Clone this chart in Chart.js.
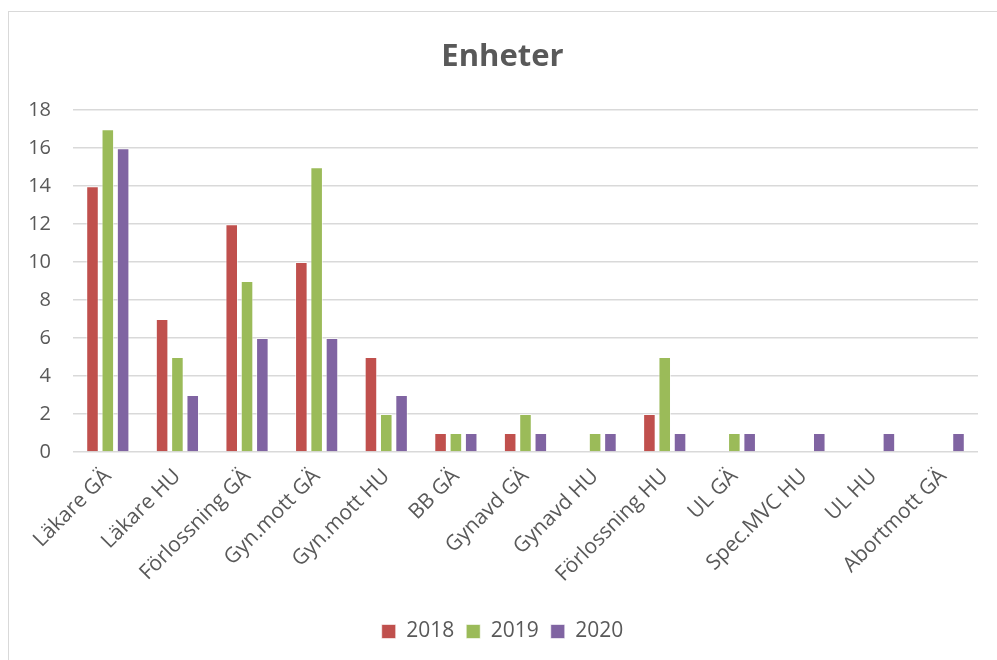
<!DOCTYPE html>
<html>
<head>
<meta charset="utf-8">
<script src="https://cdn.jsdelivr.net/npm/chart.js@4/dist/chart.umd.min.js"></script>
<style>
    body { margin: 0; background: #ffffff; }
    #frame {
        position: absolute; left: 8px; top: 11px; width: 1000px; height: 700px;
        border: 1.5px solid #d9d9d9; box-sizing: border-box;
    }
    #wrap { position: absolute; left: 0; top: 0; width: 997px; height: 660px; }
</style>
</head>
<body>
<div id="frame"></div>
<div id="wrap"><canvas id="chart"></canvas></div>
<script>
const categories = ["Läkare GÄ", "Läkare HU", "Förlossning GÄ", "Gyn.mott GÄ", "Gyn.mott HU",
                    "BB GÄ", "Gynavd GÄ", "Gynavd HU", "Förlossning HU", "UL GÄ",
                    "Spec.MVC HU", "UL HU", "Abortmott GÄ"];
const values2018 = [14, 7, 12, 10, 5, 1, 1, 0, 2, 0, 0, 0, 0];
const values2019 = [17, 5, 9, 15, 2, 1, 2, 1, 5, 1, 0, 0, 0];
const values2020 = [16, 3, 6, 6, 3, 1, 1, 1, 1, 1, 1, 1, 1];
const yTicks = [0, 2, 4, 6, 8, 10, 12, 14, 16, 18];

const textColor = "#595959";
const font = "'Open Sans', sans-serif";

function dataset (label, data, color) {
    return {
        label: label,
        data: data,
        backgroundColor: color,
        borderColor: "rgba(255,255,255,0.6)",
        borderWidth: 1,
        categoryPercentage: 0.66,
        barPercentage: 0.82
    };
}

const ctx = document.getElementById("chart");
ctx.width = 997;
ctx.height = 660;

new Chart(ctx, {
    type: "bar",
    data: {
        labels: categories,
        datasets: [
            dataset("2018", values2018, "#c0504d"),
            dataset("2019", values2019, "#9bbb59"),
            dataset("2020", values2020, "#8064a2")
        ]
    },
    options: {
        responsive: false,
        animation: false,
        layout: { padding: { left: 27, right: 19, top: 39, bottom: 8 } },
        scales: {
            y: {
                min: 0,
                max: 18,
                afterBuildTicks: function(axis) {
                    axis.ticks = yTicks.map(v => ({ value: v }));
                },
                afterFit: function(axis) {
                    axis.width = 46;
                },
                border: { display: false },
                grid: { color: "#d9d9d9", lineWidth: 1.5, drawTicks: false },
                ticks: {
                    color: textColor,
                    font: { family: font, size: 20 },
                    padding: 22
                }
            },
            x: {
                border: { display: false },
                grid: { display: false },
                afterFit: function(axis) {
                    axis.height = 157;
                    axis.paddingLeft = 0;
                    axis.paddingRight = 0;
                },
                ticks: {
                    color: textColor,
                    font: { family: font, size: 21 },
                    maxRotation: 45,
                    minRotation: 45,
                    autoSkip: false,
                    padding: 4
                }
            }
        },
        plugins: {
            title: {
                display: true,
                text: "Enheter",
                color: textColor,
                font: { family: font, size: 31, weight: "bold" },
                padding: { top: 0, bottom: 34 }
            },
            legend: {
                position: "bottom",
                labels: {
                    color: textColor,
                    font: { family: font, size: 21 },
                    boxWidth: 14,
                    boxHeight: 14,
                    padding: 12
                }
            },
            tooltip: { enabled: false }
        }
    }
});
</script>
</body>
</html>
